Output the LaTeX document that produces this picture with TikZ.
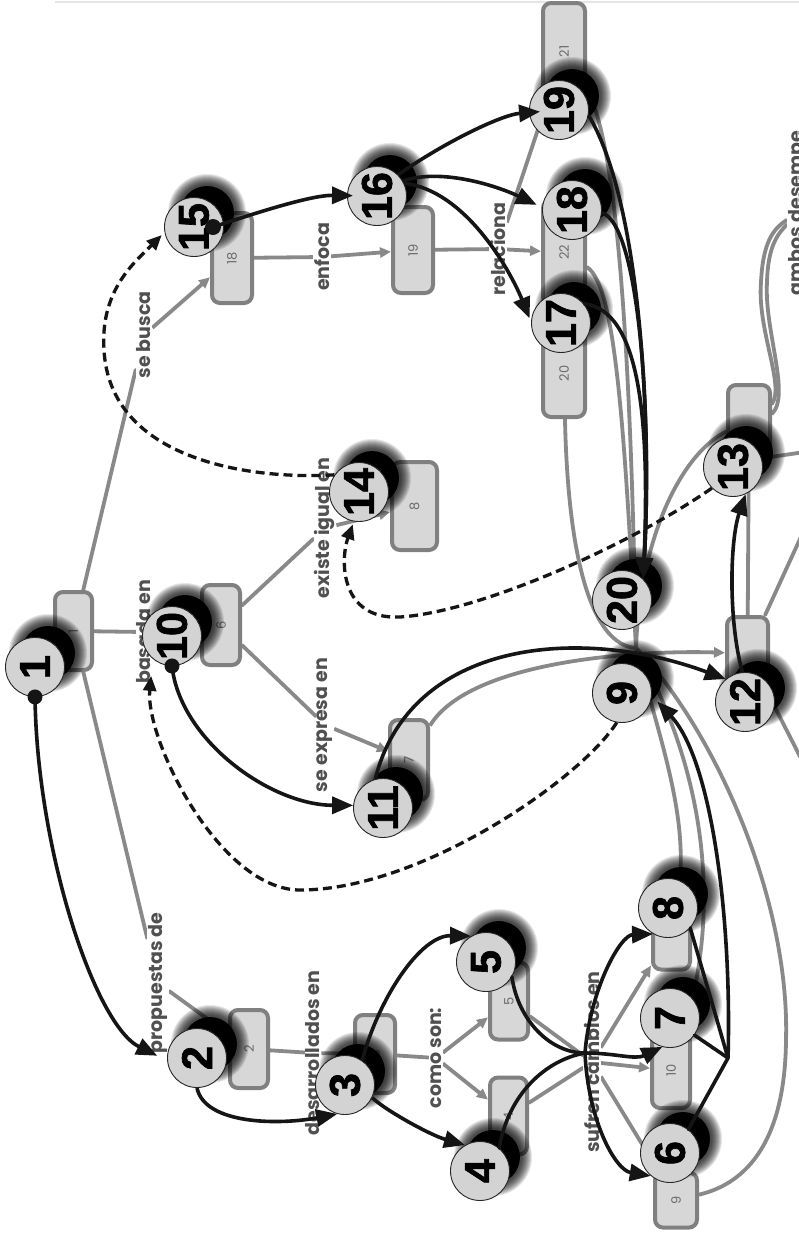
\documentclass[tikz,border=0pt]{standalone}
\usepackage{fontspec}
\usepackage{graphicx}
\usetikzlibrary{arrows.meta}
\newfontfamily\numfont{Liberation Sans}[BoldFeatures={FakeBold=1.6}]
\newfontfamily\lblfont{Poppins}
\definecolor{linkgray}{HTML}{898989}
\definecolor{boxfill}{HTML}{D7D7D7}
\definecolor{boxline}{HTML}{808080}
\definecolor{boxtext}{HTML}{6B6B6B}
\definecolor{discfill}{HTML}{D3D3D3}
\definecolor{phrasegray}{HTML}{505050}
\definecolor{inkblack}{HTML}{151515}
\pgfdeclarelayer{links}
\pgfsetlayers{links,main}

\tikzset{
  glink/.style={draw=linkgray, line width=3.8pt, line cap=round},
  garrow/.style={draw=linkgray, line width=3.8pt, -{Triangle[length=11pt,width=10pt]}},
  cbox/.style={draw=boxline, line width=4pt, fill=boxfill, rounded corners=8pt, inner sep=0pt,
    text=boxtext, font=\lblfont\fontsize{13}{13}\selectfont},
  phrase/.style={rotate=90, fill=white, inner sep=1pt, text=phrasegray,
    font=\lblfont\bfseries\fontsize{19}{19}\selectfont},
  numdisc/.style={circle, draw=black!85, line width=0.9pt, fill=discfill, minimum size=59pt,
    inner sep=0pt, font=\numfont\bfseries\fontsize{43}{43}\selectfont},
  solidlink/.style={draw=inkblack, line width=3.6pt, -{Triangle[length=21pt,width=17pt]}},
  plainlink/.style={draw=inkblack, line width=3.6pt, line cap=round},
  dashlink/.style={draw=inkblack, line width=3.3pt, dash pattern=on 9pt off 5pt,
    -{Triangle[length=15pt,width=13pt]}},
}

% soft drop shade up and to the right of a numbered disc
\newcommand\discshade[1]{%
  \begin{scope}[shift={(#1)}]
    \foreach \r in {39,38,37,36,35,34,33,32,31,30,29}
      \fill[black,opacity=.10] (13,-14) circle (\r pt);
    \fill[black] (13,-14) circle (27pt);
  \end{scope}}

\def\disclist{1/35/667, 2/197/1058, 3/345/1085, 4/480/1171, 5/486/962, 6/670/1153,
  7/670/1018, 8/668/908, 9/622/693, 10/172/636, 11/383/808, 12/745/702, 13/733/467,
  14/359/492, 15/194/227, 16/377/196, 17/561/323, 18/572/210, 19/559/110, 20/622/600}

\begin{document}
\begin{tikzpicture}[x=1pt,y=-1pt]
\useasboundingbox (0,0) rectangle (799,1235);
\begin{pgfonlayer}{links}
\fill[white] (0,0) rectangle (799,1235);
\draw[black!10, line width=1.2pt] (55,2) -- (799,2);
\end{pgfonlayer}

% ---------- concept boxes ----------
\node[cbox, minimum width=37pt, minimum height=78pt] (b1) at (73.5,631) {\rotatebox{90}{1}};
\node[cbox, minimum width=38pt, minimum height=78pt] (b2) at (249,1049) {\rotatebox{90}{2}};
\node[cbox, minimum width=40pt, minimum height=78pt] (b3) at (375,1054) {\rotatebox{90}{3}};
\node[cbox, minimum width=37pt, minimum height=77pt] (b4) at (508.5,1116) {\rotatebox{90}{4}};
\node[cbox, minimum width=38pt, minimum height=77pt] (b5) at (509,1001) {\rotatebox{90}{5}};
\node[cbox, minimum width=38pt, minimum height=80pt] (b6) at (221,625) {\rotatebox{90}{6}};
\node[cbox, minimum width=38pt, minimum height=80pt] (b7) at (409,760) {\rotatebox{90}{7}};
\node[cbox, minimum width=45pt, minimum height=88pt] (b8) at (414.5,506) {\rotatebox{90}{8}};
\node[cbox, minimum width=37pt, minimum height=75pt] (b11) at (671.5,932) {};
\node[cbox, minimum width=38pt, minimum height=75pt] (b10) at (671,1070.5) {\rotatebox{90}{10}};
\node[cbox, minimum width=42pt, minimum height=55pt] (b9) at (676,1200) {\rotatebox{90}{9}};
\node[cbox, minimum width=40pt, minimum height=90pt] (b18) at (232,258) {\rotatebox{90}{18}};
\node[cbox, minimum width=40pt, minimum height=86pt] (b19) at (413,250) {\rotatebox{90}{19}};
\node[cbox, minimum width=42pt, minimum height=97pt] (b21) at (564,51.5) {\rotatebox{90}{21}};
\node[cbox, minimum width=42pt, minimum height=105pt] (b22) at (564,252.5) {\rotatebox{90}{22}};
\node[cbox, minimum width=42pt, minimum height=87pt] (b20) at (564,373.5) {\rotatebox{90}{20}};
\node[cbox, minimum width=42pt, minimum height=70pt] (b13) at (749,420) {};
\node[cbox, minimum width=41pt, minimum height=73pt] (b12) at (747.5,653.5) {};

% ---------- linking phrases ----------
\node[phrase] (lsebusca) at (144,335) {se busca};
\node[phrase] (lenfoca) at (322,257) {enfoca};
\node[phrase] (lrelaciona) at (498,249) {relaciona};
\node[phrase] (lbasada) at (144,632) {basada en};
\node[phrase] (lexiste) at (325,528) {existe igual en};
\node[phrase] (lexpresa) at (325,725) {se expresa en};
\node[phrase] (lpropuestas) at (158,983) {propuestas de};
\node[phrase] (ldesarrollados) at (313,1053) {desarrollados en};
\node[phrase] (lcomo) at (436,1058) {como son:};
\node[phrase] (lsufren) at (592,1062) {sufren cambios en};
\node[phrase, anchor=base] (lambos) at (802,213) {ambos desempe};

% ---------- concept map links ----------
\begin{pgfonlayer}{links}
\draw[glink] (b1) -- (lsebusca);
\draw[garrow] (lsebusca) -- (b18);
\draw[glink] (b18) -- (lenfoca);
\draw[garrow] (lenfoca) -- (b19);
\draw[glink] (b19) -- (lrelaciona);
\draw[garrow] (lrelaciona) -- (b22);
\draw[garrow] (lrelaciona) -- (b21);
\draw[glink] (b1) -- (lbasada);
\draw[garrow] (lbasada) -- (b6);
\draw[glink] (b6) -- (lexiste);
\draw[garrow] (lexiste) -- (b8);
\draw[glink] (b6) -- (lexpresa);
\draw[garrow] (lexpresa) -- (b7);
\draw[glink] (b1) -- (lpropuestas);
\draw[garrow] (lpropuestas) -- (b2);
\draw[glink] (b2) -- (ldesarrollados);
\draw[garrow] (ldesarrollados) -- (b3);
\draw[glink] (b3) -- (lcomo);
\draw[garrow] (lcomo) -- (b5);
\draw[garrow] (lcomo) -- (b4);
\draw[glink] (b5) -- (lsufren);
\draw[glink] (b4) -- (lsufren);
\draw[garrow] (lsufren) -- (b11);
\draw[garrow] (lsufren) -- (b10);
\draw[garrow] (lsufren) -- (b9);

\coordinate (ghub) at (636,648);
\coordinate (gbend) at (786,1040);
\draw[glink] (b21) .. controls (622,150) and (632,420) .. (ghub);
\draw[glink] (b22) .. controls (615,285) and (624,420) .. (ghub);
\draw[glink] (b20) .. controls (568,560) and (592,645) .. (ghub);
\draw[glink] (b13) .. controls (680,455) and (640,540) .. (ghub);
\draw[glink] (ghub) .. controls (660,740) and (690,820) .. (b11);
\draw[glink] (ghub) .. controls (700,760) and (725,900) .. (b10);
\draw[glink] (ghub) .. controls (715,730) and (790,900) .. (gbend)
  .. controls (785,1150) and (740,1185) .. (b9);
\draw[garrow] (b7) .. controls (470,660) and (640,650) .. (b12);
\draw[glink] (b13) -- (b12);
\coordinate (gout1) at (805,528);
\coordinate (gout2) at (812,780);
\coordinate (gout3) at (805,452);
\draw[glink] (b12) -- (gout1);
\draw[glink] (b12) -- (gout2);
\draw[glink] (b13.-60) -- (gout3);
\draw[glink] (b13.35) .. controls (785,385) and (757,330) .. (761,282)
  .. controls (763,242) and (773,229) .. (lambos);
\draw[glink] (b13.15) .. controls (791,395) and (764,330) .. (767,282)
  .. controls (768,245) and (778,234) .. (lambos);
\end{pgfonlayer}

% ---------- numbered discs ----------
\foreach \n/\x/\y in \disclist { \discshade{\x,\y} }
\foreach \n/\x/\y in \disclist { \node[numdisc] (c\n) at (\x,\y) {\rotatebox{90}{\n}}; }

% ---------- reading order ----------
\coordinate (hub) at (585,1053);
\coordinate (jn) at (728,1058);
\coordinate (w1) at (300,890);
\coordinate (w2) at (400,617);
\coordinate (w3) at (104,350);

\draw[solidlink, shorten >=11pt] (c1.-90) .. controls (37,850) and (95,1025) .. (c2.185);
\fill[inkblack] (c1.-90) circle (7.5pt);
\draw[solidlink] (c2.-90) .. controls (205,1125) and (280,1125) .. (c3.-105);
\draw[solidlink] (c3.55) .. controls (378,1000) and (420,935) .. (c5.120);
\draw[solidlink] (c3.-25) .. controls (385,1110) and (430,1135) .. (c4.120);
\draw[plainlink] (c5.-30) .. controls (518,1020) and (550,1053) .. (hub);
\draw[plainlink] (c4.50) .. controls (508,1095) and (545,1060) .. (hub);
\draw[solidlink] (hub) .. controls (615,1053) and (635,1060) .. (c7.-105);
\draw[solidlink] (hub) .. controls (590,990) and (620,935) .. (c8.-120);
\draw[solidlink] (hub) .. controls (588,1120) and (615,1170) .. (c6.-130);
\draw[plainlink] (c8.-42) -- (jn);
\draw[plainlink] (c7.-35) -- (jn);
\draw[plainlink] (c6.52) -- (jn);
\draw[solidlink, shorten >=8pt] (jn) .. controls (732,920) and (712,760) .. (c9.-5);
\draw[dashlink, shorten >=17pt] (c9.-100) .. controls (580,780) and (420,890) .. (w1)
  .. controls (220,890) and (145,740) .. (c10.-130);
\draw[solidlink] (c10.-90) .. controls (180,740) and (270,805) .. (c11.175);
\fill[inkblack] (c10.-90) circle (7.5pt);
\draw[solidlink] (c11.105) .. controls (410,640) and (580,625) .. (c12.130);
\draw[solidlink] (c12.95) .. controls (728,620) and (730,540) .. (c13.-65);
\draw[dashlink, shorten >=3pt] (c13.-135) .. controls (630,545) and (480,612) .. (w2)
  .. controls (340,620) and (340,560) .. (c14.-100);
\draw[dashlink, shorten >=4pt] (c14.145) .. controls (250,480) and (110,460) .. (w3)
  .. controls (100,290) and (135,262) .. (c15.190);
\draw[solidlink, shorten >=24pt] ([xshift=19pt]c15.center) .. controls (250,215) and (310,195) .. (c16.center);
\fill[inkblack] ([xshift=19pt]c15.center) circle (8pt);
\draw[solidlink, shorten >=19pt] (c16.45) .. controls (440,145) and (500,115) .. (c19.center);
\draw[solidlink, shorten >=6pt] (c16.30) .. controls (440,168) and (495,185) .. (c18.175);
\draw[solidlink, shorten >=4pt] (c16.25) .. controls (465,190) and (510,270) .. (c17.178);
\draw[solidlink] (c19.-10) .. controls (640,200) and (652,420) .. (c20.45);
\draw[solidlink] (c18.-5) .. controls (640,225) and (652,420) .. (c20.45);
\draw[solidlink] (c17.40) .. controls (640,310) and (650,420) .. (c20.45);
\end{tikzpicture}
\end{document}
